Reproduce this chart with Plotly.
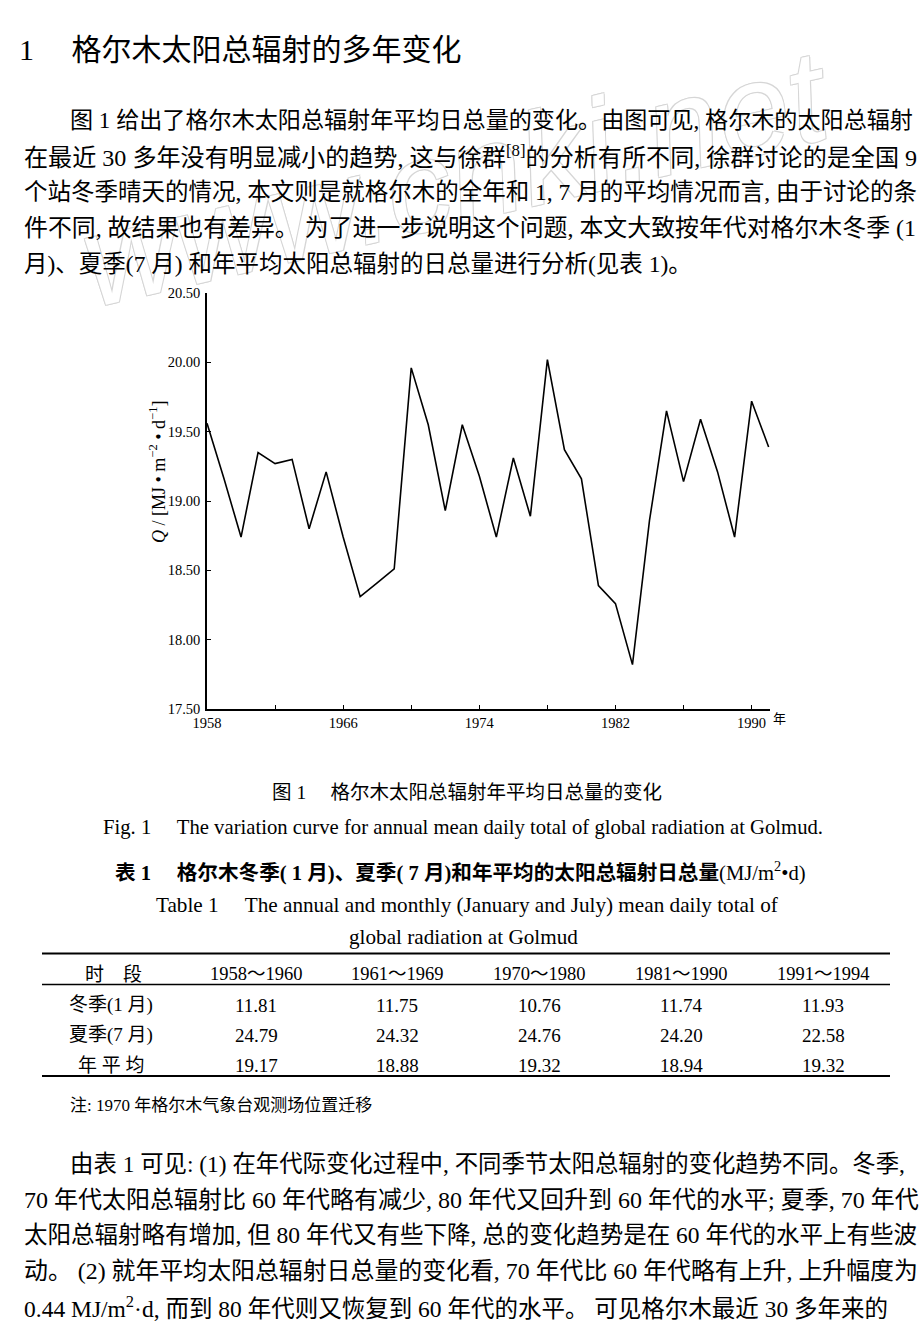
import plotly.graph_objects as go

W, H = 920, 1331

# ---------------- data ----------------
years = list(range(1958, 1992))
q_values = [19.56, 19.16, 18.74, 19.35, 19.27, 19.30, 18.80, 19.21, 18.74, 18.31,
            18.41, 18.51, 19.96, 19.55, 18.93, 19.55, 19.18, 18.74, 19.31, 18.89,
            20.02, 19.37, 19.16, 18.39, 18.26, 17.82, 18.86, 19.65, 19.14, 19.59,
            19.21, 18.74, 19.72, 19.39]
x_tickvals = [1958, 1966, 1974, 1982, 1990]
x_minor_ticks = [1962, 1970, 1978, 1986]
y_tickvals = [17.5, 18.0, 18.5, 19.0, 19.5, 20.0, 20.5]
y_ticktext = ["17.50", "18.00", "18.50", "19.00", "19.50", "20.00", "20.50"]

table_periods = ["1958～1960", "1961～1969", "1970～1980", "1981～1990", "1991～1994"]
table_rows = ["冬季(1 月)", "夏季(7 月)", "年 平 均"]
winter_jan = ["11.81", "11.75", "10.76", "11.74", "11.93"]
summer_jul = ["24.79", "24.32", "24.76", "24.20", "22.58"]
annual_mean = ["19.17", "18.88", "19.32", "18.94", "19.32"]

heading = "1　 格尔木太阳总辐射的多年变化"
para1 = [
    "图 1 给出了格尔木太阳总辐射年平均日总量的变化。由图可见, 格尔木的太阳总辐射",
    "在最近 30 多年没有明显减小的趋势, 这与徐群<sup>[8]</sup>的分析有所不同, 徐群讨论的是全国 9",
    "个站冬季晴天的情况, 本文则是就格尔木的全年和 1, 7 月的平均情况而言, 由于讨论的条",
    "件不同, 故结果也有差异。 为了进一步说明这个问题, 本文大致按年代对格尔木冬季 (1",
    "月)、夏季(7 月) 和年平均太阳总辐射的日总量进行分析(见表 1)。",
]
para2 = [
    "由表 1 可见: (1) 在年代际变化过程中, 不同季节太阳总辐射的变化趋势不同。冬季,",
    "70 年代太阳总辐射比 60 年代略有减少, 80 年代又回升到 60 年代的水平; 夏季, 70 年代",
    "太阳总辐射略有增加, 但 80 年代又有些下降, 总的变化趋势是在 60 年代的水平上有些波",
    "动。 (2) 就年平均太阳总辐射日总量的变化看, 70 年代比 60 年代略有上升, 上升幅度为",
    "0.44 MJ/m<sup>2</sup>·d, 而到 80 年代则又恢复到 60 年代的水平。 可见格尔木最近 30 多年来的",
]
fig_caption_cn = "图 1　 格尔木太阳总辐射年平均日总量的变化"
fig_caption_en = "Fig. 1　 The variation curve for annual mean daily total of global radiation at Golmud."
tab_title_cn = "<b>表 1　 格尔木冬季( 1 月)、夏季( 7 月)和年平均的太阳总辐射日总量</b>(MJ/m<sup>2</sup>•d)"
tab_title_en1 = "Table 1　 The annual and monthly (January and July) mean daily total of"
tab_title_en2 = "global radiation at Golmud"
tab_header0 = "时　段"
note = "注: 1970 年格尔木气象台观测场位置迁移"
y_title = "<i>Q</i> / [MJ • m<sup>−2</sup> • d<sup>−1</sup>]"
x_unit = "年"

FONT = "Liberation Serif, Noto Sans CJK SC, serif"
para1_sizes = [23.1, 24.1, 23.5, 23.9, 23.5]
para2_sizes = [23.4, 24.0, 23.5, 23.9, 23.5]


def px(x):
    return x / W


def py(y):
    return 1 - y / H


fig = go.Figure()
fig.add_trace(go.Scatter(x=years, y=q_values, mode="lines",
                         line=dict(color="black", width=1.6),
                         showlegend=False, hoverinfo="skip"))

ann = []
# faint watermark (outlined)
wm_col = "#d6d6d6"
ann.append(dict(text="www.cnki.net", x=px(455), y=py(178), xref="paper", yref="paper",
                xanchor="center", yanchor="middle",
                showarrow=False, textangle=-13,
                font=dict(family="Liberation Sans, sans-serif", size=130, color="white", style="italic",
                          shadow=f"1px 1px 0 {wm_col}, -1px -1px 0 {wm_col}, 1px -1px 0 {wm_col}, -1px 1px 0 {wm_col}")))


def text(t, x, y, size, anchor="left", **kw):
    ann.append(dict(text=t, x=px(x), y=py(y), xref="paper", yref="paper",
                    xanchor=anchor, yanchor="middle", showarrow=False,
                    font=dict(family=FONT, size=size, color="black"), **kw))


text(heading, 17, 50, 30)
for i, (line, s) in enumerate(zip(para1, para1_sizes)):
    text(line, 68 if i == 0 else 22, 120 + 36 * i, s)
for i, (line, s) in enumerate(zip(para2, para2_sizes)):
    text(line, 68 if i == 0 else 22, 1164 + 35.7 * i, s)

# chart extras
text(y_title, 157, 472, 18, anchor="center", textangle=-90)
text(x_unit, 771, 719, 13)

text(fig_caption_cn, 467, 793, 19.5, anchor="center")
text(fig_caption_en, 463, 827, 20.7, anchor="center")
text(tab_title_cn, 460, 871, 20.6, anchor="center")
text(tab_title_en1, 468, 905, 21.2, anchor="center")
text(tab_title_en2, 463, 937, 21.2, anchor="center")

col_x = [256, 397, 539, 681, 823]
text(tab_header0, 113, 974, 19, anchor="center")
for cx, h in zip(col_x, table_periods):
    text(h, cx, 974, 18.5, anchor="center")
row_y = [1005, 1035, 1065]
for ry, lab, vals in zip(row_y, table_rows, [winter_jan, summer_jul, annual_mean]):
    text(lab, 111, ry, 19, anchor="center")
    for cx, v in zip(col_x, vals):
        text(v, cx, ry, 19, anchor="center")
text(note, 68, 1105, 17)

shapes = []
for yy, wdt in [(953.5, 2.2), (984.5, 1.4), (1076, 2.2)]:
    shapes.append(dict(type="line", xref="paper", yref="paper", x0=px(42), x1=px(890),
                       y0=py(yy), y1=py(yy), line=dict(color="black", width=wdt)))

tickfont = dict(family="Liberation Serif, serif", size=14.5, color="black")
fig.update_layout(
    width=W, height=H, margin=dict(l=0, r=0, t=0, b=0, autoexpand=False),
    paper_bgcolor="white", plot_bgcolor="white",
    annotations=ann, shapes=shapes,
    xaxis=dict(domain=[px(207), px(770)], range=[1958, 1991.08], tickmode="array",
               tickvals=x_tickvals, ticks="inside", ticklen=4,
               tickwidth=1.2, tickcolor="black", showline=True, linecolor="black", linewidth=1.6,
               showgrid=False, zeroline=False, automargin=False, tickfont=tickfont,
               minor=dict(tickmode="array", tickvals=x_minor_ticks, ticks="inside", ticklen=4,
                          tickwidth=1.2, tickcolor="black", showgrid=False)),
    yaxis=dict(domain=[py(709), py(293)], range=[17.5, 20.5], tickmode="array",
               tickvals=y_tickvals, ticktext=y_ticktext, ticks="inside", ticklen=4,
               tickwidth=1.2, tickcolor="black", showline=True, linecolor="black", linewidth=1.6,
               showgrid=False, zeroline=False, ticklabelstandoff=2, automargin=False,
               tickfont=tickfont),
)

fig.write_html("out.html", config={"displayModeBar": False},
               post_script="document.body.style.margin='0';")
